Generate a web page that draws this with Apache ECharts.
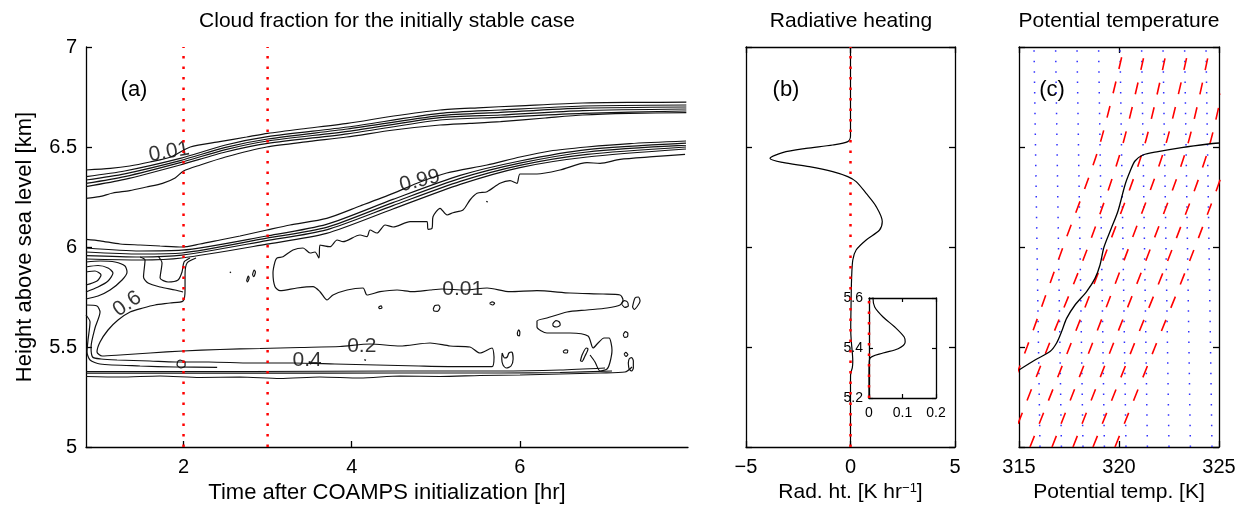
<!DOCTYPE html>
<html>
<head>
<meta charset="utf-8">
<script src="https://cdn.jsdelivr.net/npm/echarts@6/dist/echarts.min.js"></script>
<style>
  html, body { margin: 0; padding: 0; background: #fff; }
  #main { width: 1249px; height: 519px; }
</style>
</head>
<body>
<div id="main"></div>
<script>
// ---- panel (a): cloud fraction contours, [time hr, height km] ----
var cloudTop1 = [[0.84,6.385],[1.13,6.393],[1.36,6.405],[1.6,6.425],[1.85,6.45],[2.08,6.5],[2.43,6.527],[2.75,6.55],[3.0,6.568],[3.4,6.59],[3.95,6.618],[4.5,6.655],[5.05,6.685],[5.5,6.696],[6.0,6.706],[6.75,6.72],[7.4,6.723],[7.98,6.724]];
var cloudTop2 = [[0.84,6.352],[1.3,6.38],[1.96,6.443],[2.5,6.51],[3.0,6.552],[3.95,6.60],[5.05,6.668],[5.77,6.685],[6.75,6.705],[7.98,6.71]];
var cloudTop3 = [[0.84,6.335],[1.3,6.366],[1.96,6.432],[2.5,6.498],[3.0,6.54],[3.95,6.59],[5.05,6.657],[5.77,6.673],[6.75,6.694],[7.98,6.70]];
var cloudTop4 = [[0.84,6.318],[1.3,6.352],[1.96,6.422],[2.5,6.487],[3.0,6.53],[3.95,6.578],[5.05,6.647],[5.77,6.66],[6.75,6.682],[7.98,6.69]];
var cloudTop5 = [[0.84,6.302],[1.3,6.338],[1.96,6.41],[2.5,6.475],[3.0,6.518],[3.95,6.566],[5.05,6.635],[5.77,6.648],[6.75,6.668],[7.98,6.68]];
var cloudTop6 = [[0.84,6.243],[1.0,6.252],[1.16,6.27],[1.36,6.282],[1.56,6.30],[1.75,6.318],[1.9,6.345],[2.0,6.38],[2.2,6.41],[2.5,6.45],[2.99,6.50],[3.5,6.528],[3.94,6.55],[4.5,6.585],[5.05,6.61],[5.4,6.618],[5.77,6.627],[6.3,6.645],[6.75,6.66],[7.3,6.668],[7.98,6.672]];

var cloudBase1 = [[0.84,6.038],[1.007,6.031],[1.245,6.015],[1.483,6.01],[1.721,6.005],[1.982,6.0],[2.196,6.015],[2.434,6.035],[2.672,6.055],[2.993,6.085],[3.267,6.11],[3.703,6.143],[4.099,6.205],[4.492,6.268],[4.813,6.325],[5.13,6.37],[5.61,6.41],[6.002,6.45],[6.359,6.48],[6.795,6.50],[7.311,6.517],[7.976,6.53]];
var cloudBase2 = [[0.84,5.995],[1.48,5.98],[1.98,5.984],[2.99,6.055],[3.70,6.113],[4.49,6.238],[5.29,6.358],[6.0,6.43],[6.8,6.487],[7.976,6.519]];
var cloudBase3 = [[0.84,5.975],[1.48,5.965],[1.98,5.97],[2.99,6.044],[3.70,6.098],[4.49,6.222],[5.29,6.343],[6.0,6.419],[6.8,6.475],[7.976,6.509]];
var cloudBase4 = [[0.84,5.957],[1.48,5.95],[1.98,5.959],[2.99,6.032],[3.70,6.086],[4.49,6.207],[5.29,6.328],[6.0,6.408],[6.8,6.463],[7.976,6.50]];
var cloudBase5 = [[0.84,5.94],[1.48,5.935],[1.98,5.945],[2.99,6.014],[3.70,6.068],[4.49,6.19],[5.29,6.313],[6.0,6.397],[6.8,6.45],[7.976,6.49]];

var cloudGap = [[7.965,6.4635],[7.584,6.4515],[7.192,6.4385],[6.954,6.4185],[6.799,6.4215],[6.478,6.385],[6.204,6.365],[6.002,6.365],[5.966,6.3185],[5.883,6.3315],[5.764,6.3185],[5.610,6.2765],[5.491,6.2685],[5.407,6.235],[5.324,6.185],[5.205,6.1715],[5.134,6.16],[5.051,6.1935],[4.967,6.1515],[4.956,6.0935],[4.908,6.0885],[4.896,6.1265],[4.813,6.1265],[4.694,6.1265],[4.492,6.10],[4.397,6.11],[4.301,6.07],[4.218,6.085],[4.182,6.0515],[4.099,6.06],[3.897,6.0265],[3.826,6.035],[3.742,6.0015],[3.623,6.01],[3.611,5.945],[3.564,5.975],[3.505,5.97],[3.421,5.995],[3.302,5.985],[3.183,5.9515],[3.112,5.945],[3.088,5.9265],[3.064,5.87],[3.088,5.8015],[3.148,5.7815],[3.35,5.795],[3.54,5.8015],[3.623,5.7765],[3.707,5.735],[3.778,5.76],[3.945,5.785],[4.135,5.795],[4.182,5.76],[4.337,5.7765],[4.539,5.785],[4.729,5.7765],[4.932,5.785],[5.075,5.79],[5.348,5.785],[5.610,5.795],[5.883,5.7765],[6.204,5.7815],[6.597,5.77],[6.989,5.765],[7.192,5.76],[7.227,5.735],[7.192,5.71],[7.037,5.695],[6.799,5.685],[6.561,5.675],[6.323,5.645],[6.204,5.63],[6.204,5.60],[6.323,5.57],[6.597,5.57],[6.811,5.555],[6.871,5.495],[6.930,5.52],[7.001,5.545],[7.061,5.545],[7.096,5.485],[7.073,5.425],[7.037,5.39],[6.954,5.38],[6.894,5.425],[6.835,5.46]];

var loopOuter = [[0.84,5.925],[1.007,5.93],[1.185,5.925],[1.304,5.905],[1.328,5.875],[1.269,5.835],[1.126,5.785],[0.983,5.755],[0.84,5.74]];
var loopMid = [[0.84,5.90],[0.983,5.9075],[1.102,5.895],[1.161,5.87],[1.102,5.83],[0.983,5.80],[0.84,5.775]];
var loopInner = [[0.84,5.875],[0.947,5.88],[1.019,5.86],[0.971,5.83],[0.84,5.81]];
var dropLine1 = [[1.483,5.95],[1.542,5.935],[1.524,5.85],[1.578,5.82],[1.721,5.80],[1.899,5.785],[1.994,5.775]];
var dropLine2 = [[1.697,5.955],[1.744,5.92],[1.721,5.845],[1.816,5.825],[1.935,5.835],[1.982,5.875],[2.006,5.925],[2.077,5.945]];
var wedgeLine = [[2.149,5.945],[2.042,5.92],[2.018,5.86],[2.018,5.785],[1.994,5.73],[1.839,5.72],[1.661,5.71],[1.518,5.695],[1.364,5.675],[1.221,5.635],[1.102,5.585],[1.007,5.525],[0.971,5.475],[1.031,5.455],[1.245,5.46],[1.602,5.47],[1.994,5.48],[2.434,5.4875],[2.910,5.4925],[3.386,5.4975],[3.861,5.5025],[4.218,5.515],[4.575,5.505],[4.932,5.52],[5.170,5.505],[5.407,5.50],[5.526,5.47],[5.669,5.495],[5.693,5.45]];
var edgeLine1 = [[0.84,5.71],[0.971,5.705],[1.007,5.675],[0.947,5.595],[0.90,5.50],[0.918,5.45],[1.019,5.44],[1.209,5.435],[1.60,5.43],[1.90,5.425],[2.3,5.425],[2.8,5.42],[3.3,5.42],[3.8,5.415],[4.3,5.41],[4.8,5.405],[5.324,5.4015],[5.669,5.4015],[5.693,5.45]];
var edgeLine2 = [[0.84,5.66],[0.888,5.625],[0.864,5.535],[0.852,5.475],[0.888,5.435],[1.007,5.415],[1.483,5.405],[1.899,5.40],[2.4,5.398]];
var bottomLine1 = [[0.84,5.3775],[2.79,5.3775],[4.575,5.38],[5.764,5.38],[6.478,5.385],[7.013,5.395]];
var bottomLine2 = [[0.84,5.369],[2.79,5.369],[4.575,5.37],[5.764,5.37],[6.478,5.3725],[7.096,5.38]];
var bottomLine3 = [[0.84,5.3525],[1.245,5.35],[1.721,5.355],[2.196,5.3475],[2.672,5.35],[3.148,5.3425],[3.623,5.35],[4.099,5.345],[4.575,5.355],[5.051,5.3525],[5.526,5.3575],[6.002,5.36],[6.478,5.365],[6.954,5.37],[7.251,5.375],[7.335,5.40]];

var smallCells = [
  [[4.97,5.69],[4.99,5.708],[5.03,5.71],[5.05,5.697],[5.02,5.678],[4.98,5.68],[4.97,5.69]],
  [[5.64,5.718],[5.67,5.726],[5.70,5.72],[5.68,5.71],[5.64,5.718]],
  [[5.97,5.57],[5.985,5.586],[6.0,5.575],[5.995,5.556],[5.975,5.558],[5.97,5.57]],
  [[6.39,5.615],[6.43,5.632],[6.47,5.625],[6.48,5.61],[6.44,5.60],[6.40,5.604],[6.39,5.615]],
  [[6.515,5.478],[6.54,5.486],[6.57,5.482],[6.56,5.47],[6.525,5.471],[6.515,5.478]],
  [[6.72,5.43],[6.74,5.46],[6.79,5.495],[6.81,5.49],[6.775,5.455],[6.74,5.428],[6.72,5.43]],
  [[5.79,5.47],[5.82,5.445],[5.85,5.45],[5.87,5.47],[5.905,5.475],[5.92,5.44],[5.895,5.405],[5.84,5.395],[5.80,5.41],[5.785,5.44],[5.79,5.47]],
  [[7.23,5.562],[7.255,5.577],[7.285,5.568],[7.28,5.552],[7.245,5.548],[7.23,5.562]],
  [[7.24,5.465],[7.26,5.473],[7.285,5.462],[7.26,5.453],[7.24,5.465]],
  [[7.29,5.42],[7.30,5.44],[7.33,5.447],[7.35,5.43],[7.35,5.395],[7.33,5.38],[7.30,5.39],[7.29,5.42]],
  [[7.21,5.715],[7.24,5.732],[7.28,5.725],[7.29,5.705],[7.25,5.698],[7.21,5.715]],
  [[7.34,5.70],[7.37,5.745],[7.41,5.75],[7.43,5.73],[7.40,5.705],[7.36,5.688],[7.34,5.70]],
  [[1.958,5.435],[2.018,5.425],[2.018,5.405],[1.97,5.395],[1.923,5.41],[1.935,5.43],[1.958,5.435]],
  [[2.75,5.83],[2.77,5.855],[2.78,5.845],[2.76,5.825],[2.75,5.83]],
  [[2.82,5.86],[2.84,5.885],[2.855,5.875],[2.835,5.852],[2.82,5.86]],
  [[2.55,5.875],[2.565,5.872]],
  [[4.32,5.70],[4.35,5.706],[4.36,5.696],[4.33,5.692],[4.32,5.70]],
  [[4.15,5.437],[4.17,5.433]],
  [[5.60,6.228],[5.62,6.225]],
  [[3.49,5.427],[3.52,5.422],[3.51,5.415],[3.49,5.427]]
];

var contourLabels = [
  { name: '0.01', value: [1.83, 6.475], rot: 10 },
  { name: '0.99', value: [4.81, 6.33], rot: 14 },
  { name: '0.6', value: [1.33, 5.715], rot: 35 },
  { name: '0.01', value: [5.32, 5.79], rot: 0 },
  { name: '0.2', value: [4.12, 5.505], rot: 0 },
  { name: '0.4', value: [3.47, 5.435], rot: 0 }
];
var markTimes = [2, 3];

// ---- panel (b): radiative heating profile, [K/hr, km] ----
var radHeat = [[0,7.0],[0,6.555],[-0.13,6.527],[-0.85,6.51],[-2.13,6.493],[-3.25,6.472],[-3.85,6.443],[-3.25,6.423],[-1.97,6.402],[-0.85,6.377],[-0.13,6.352],[0.27,6.327],[0.75,6.268],[1.23,6.202],[1.52,6.127],[1.39,6.085],[0.75,6.035],[0.27,5.985],[0.11,5.935],[0.05,5.835],[0.025,5.7],[0.012,5.6],[0.017,5.564],[0.042,5.524],[0.077,5.484],[0.105,5.444],[0.108,5.424],[0.087,5.397],[0.042,5.38],[0.002,5.357],[0,5.3],[0,5.0]];

// ---- panel (c): potential temperature, [K, km] ----
var thetaProfile = [[315.0,5.385],[315.8,5.435],[316.55,5.477],[316.88,5.52],[317.13,5.577],[317.38,5.643],[317.8,5.71],[318.38,5.777],[318.8,5.843],[319.05,5.91],[319.25,6.0],[319.6,6.09],[319.95,6.18],[320.3,6.31],[320.55,6.377],[320.8,6.43],[321.2,6.46],[321.95,6.477],[323.13,6.497],[324.47,6.515],[325.0,6.52]];
var dryBottom = [316.05, 317.12, 318.2, 319.27, 320.35, 321.42, 322.5, 323.57, 324.65];
var dryTop = [315.75, 316.83, 317.9, 318.98, 320.05, 321.13, 322.2, 323.28, 324.35];
var moistHeights = [5, 5.5, 6, 6.5, 7];
var moistLines = [
  [313.5, 315.4, 317.2, 319.0, 320.25],
  [314.5, 316.45, 318.45, 320.15, 321.35],
  [315.55, 317.53, 319.45, 321.25, 322.42],
  [316.65, 318.6, 320.5, 322.3, 323.5],
  [317.7, 319.65, 321.6, 323.4, 324.55],
  [318.7, 320.7, 322.7, 324.5, 325.6],
  [319.8, 321.8, 323.8, 325.6, 326.8]
];

var FONT = "'Liberation Sans', Arial, sans-serif";
var myChart = echarts.init(document.getElementById('main'));

function plainLine(data, xi, yi, color, width, type, smooth) {
  return {
    type: 'line', xAxisIndex: xi, yAxisIndex: yi, data: data,
    symbol: 'none', smooth: smooth || 0, silent: true, clip: true,
    lineStyle: { color: color, width: width, type: type || 'solid' }
  };
}

function valueAxis(gridIndex, pos, min, max, interval, showLabel, extra) {
  var ax = {
    type: 'value', gridIndex: gridIndex, position: pos, min: min, max: max, interval: interval,
    splitLine: { show: false },
    axisLine: { show: true, onZero: false, lineStyle: { color: '#000', width: 1.3 } },
    axisTick: { show: true, inside: true, length: 6, lineStyle: { color: '#000', width: 1.3 } },
    axisLabel: { show: showLabel, color: '#000', fontSize: 20, fontFamily: FONT, margin: 9 }
  };
  for (var k in extra) ax[k] = extra[k];
  return ax;
}

var series = [];
var contourLines = [cloudTop1, cloudTop2, cloudTop3, cloudTop4, cloudTop5, cloudTop6,
  cloudBase1, cloudBase2, cloudBase3, cloudBase4, cloudBase5, cloudGap,
  loopOuter, loopMid, loopInner, dropLine1, dropLine2, wedgeLine, edgeLine1, edgeLine2,
  bottomLine1, bottomLine2, bottomLine3].concat(smallCells);
contourLines.forEach(function (c) {
  series.push(plainLine(c, 0, 0, '#111', 1.2, 'solid', 0.25));
});
series.push({
  type: 'scatter', xAxisIndex: 0, yAxisIndex: 0, silent: true, symbolSize: 1,
  itemStyle: { color: 'rgba(0,0,0,0)' },
  data: contourLabels.map(function (d) {
    return { name: d.name, value: d.value, label: { rotate: d.rot } };
  }),
  label: { show: true, position: 'inside', formatter: '{b}', color: '#000', fontSize: 21, fontFamily: FONT }
});
markTimes.forEach(function (t) {
  series.push(plainLine([[t, 5], [t, 7]], 0, 0, '#ff0000', 2.5, [2.5, 8]));
});

// panel (b)
series.push(plainLine(radHeat, 1, 1, '#000', 1.2, 'solid', 0.3));
series.push(plainLine([[0, 5], [0, 7]], 1, 1, '#ff0000', 2.5, [2.5, 8]));
// inset
series.push(plainLine(radHeat, 5, 5, '#000', 1.2, 'solid', 0.3));
series.push(plainLine([[0, 5.2], [0, 5.6]], 5, 5, '#ff0000', 2.5, [2.5, 8]));

// panel (c)
dryBottom.forEach(function (b, i) {
  series.push(plainLine([[b, 5], [dryTop[i], 7]], 3, 3, '#3030ff', 1.5, [1.5, 8.9]));
});
moistLines.forEach(function (m) {
  series.push(plainLine(m.map(function (th, i) { return [th, moistHeights[i]]; }), 3, 3, '#ff0000', 1.6, [12, 13], 0.3));
});
series.push(plainLine(thetaProfile, 3, 3, '#000', 1.3, 'solid', 0.3));

var option = {
  animation: false,
  backgroundColor: '#fff',
  textStyle: { fontFamily: FONT },
  grid: [
    { left: 86, top: 47, width: 602, height: 400 },
    { left: 746, top: 47, width: 209, height: 400 },
    { left: 1019, top: 47, width: 200, height: 400 },
    { left: 869, top: 298, width: 67, height: 100, backgroundColor: '#fff', show: true, borderWidth: 0 }
  ],
  xAxis: [
    valueAxis(0, 'bottom', 0.84, 8.0, null, true, {
      axisTick: { show: true, inside: true, length: 6, customValues: [2, 4, 6], lineStyle: { color: '#000', width: 1.3 } },
      axisLabel: { show: true, customValues: [2, 4, 6], color: '#000', fontSize: 20, fontFamily: FONT, margin: 10 },
      name: 'Time after COAMPS initialization [hr]', nameLocation: 'middle', nameGap: 35,
      nameTextStyle: { fontSize: 22, color: '#000', fontFamily: FONT }
    }),
    valueAxis(1, 'bottom', -5, 5, 5, true, {
      axisLabel: { show: true, color: '#000', fontSize: 20, fontFamily: FONT, margin: 10,
        formatter: function (v) { return v < 0 ? '\u2212' + Math.abs(v) : String(v); } },
      name: 'Rad. ht. [K hr{sup|\u22121}]', nameLocation: 'middle', nameGap: 35,
      nameTextStyle: { fontSize: 21, color: '#000', fontFamily: FONT,
        rich: { sup: { fontSize: 13, verticalAlign: 'top', color: '#000', fontFamily: FONT } } }
    }),
    valueAxis(1, 'top', -5, 5, 5, false, {}),
    valueAxis(2, 'bottom', 315, 325, 5, true, {
      axisLabel: { show: true, color: '#000', fontSize: 20, fontFamily: FONT, margin: 10 },
      name: 'Potential temp. [K]', nameLocation: 'middle', nameGap: 35,
      nameTextStyle: { fontSize: 21, color: '#000', fontFamily: FONT }
    }),
    valueAxis(2, 'top', 315, 325, 5, false, {}),
    valueAxis(3, 'bottom', 0, 0.2, 0.1, true, {
      axisTick: { show: true, inside: true, length: 4, lineStyle: { color: '#000', width: 1.2 } },
      axisLabel: { show: true, color: '#000', fontSize: 14, fontFamily: FONT, margin: 8 }
    }),
    valueAxis(3, 'top', 0, 0.2, 0.1, false, {
      axisTick: { show: true, inside: true, length: 4, lineStyle: { color: '#000', width: 1.2 } }
    })
  ],
  yAxis: [
    valueAxis(0, 'left', 5, 7, 0.5, true, {
      name: 'Height above sea level [km]', nameLocation: 'middle', nameGap: 50,
      nameTextStyle: { fontSize: 22, color: '#000', fontFamily: FONT }
    }),
    valueAxis(1, 'left', 5, 7, 0.5, false, {}),
    valueAxis(1, 'right', 5, 7, 0.5, false, {}),
    valueAxis(2, 'left', 5, 7, 0.5, false, {}),
    valueAxis(2, 'right', 5, 7, 0.5, false, {}),
    valueAxis(3, 'left', 5.2, 5.6, 0.2, true, {
      axisTick: { show: true, inside: true, length: 4, lineStyle: { color: '#000', width: 1.2 } },
      axisLabel: { show: true, color: '#000', fontSize: 14, fontFamily: FONT, margin: 6 }
    }),
    valueAxis(3, 'right', 5.2, 5.6, 0.2, false, {
      axisTick: { show: true, inside: true, length: 4, lineStyle: { color: '#000', width: 1.2 } }
    })
  ],
  graphic: [
    { type: 'text', x: 387, y: 21, style: { text: 'Cloud fraction for the initially stable case', align: 'center', verticalAlign: 'middle', fontSize: 21, fontFamily: FONT, fill: '#000' } },
    { type: 'text', x: 851, y: 21, style: { text: 'Radiative heating', align: 'center', verticalAlign: 'middle', fontSize: 21, fontFamily: FONT, fill: '#000' } },
    { type: 'text', x: 1119, y: 21, style: { text: 'Potential temperature', align: 'center', verticalAlign: 'middle', fontSize: 21, fontFamily: FONT, fill: '#000' } },
    { type: 'text', x: 134, y: 90, style: { text: '(a)', align: 'center', verticalAlign: 'middle', fontSize: 22, fontFamily: FONT, fill: '#000' } },
    { type: 'text', x: 786, y: 90, style: { text: '(b)', align: 'center', verticalAlign: 'middle', fontSize: 22, fontFamily: FONT, fill: '#000' } },
    { type: 'text', x: 1052, y: 90, style: { text: '(c)', align: 'center', verticalAlign: 'middle', fontSize: 22, fontFamily: FONT, fill: '#000' } }
  ],
  series: series
};
myChart.setOption(option, true);
</script>
</body>
</html>
